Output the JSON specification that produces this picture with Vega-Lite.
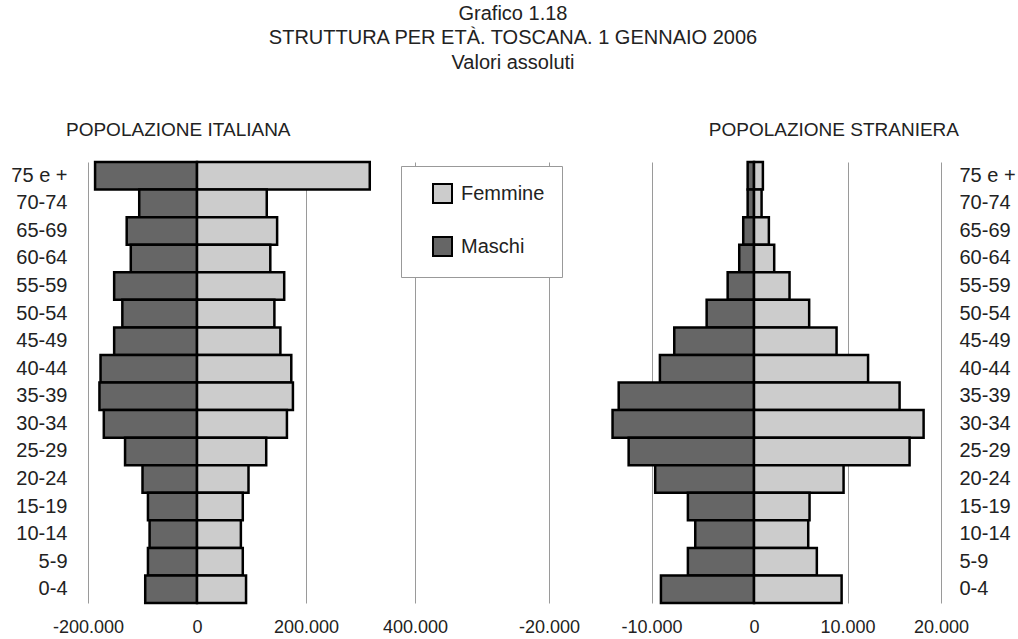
{
  "$schema": "https://vega.github.io/schema/vega-lite/v6.json",
  "padding": {"left": 10, "top": 3, "right": 0, "bottom": 0},
  "background": "white",
  "config": {
    "locale": {"number": {"decimal": ",", "thousands": ".", "grouping": [3], "currency": ["€", ""], "minus": "-"}},
    "font": "Liberation Sans",
    "view": {"stroke": null},
    "concat": {"spacing": 134},
    "axis": {"labelColor": "#222222", "labelFont": "Liberation Sans", "gridColor": "#9a9a9a", "gridWidth": 1, "gridOpacity": 1},
    "legend": {"labelFont": "Liberation Sans"},
    "title": {"font": "Liberation Sans"}
  },
  "title": {
    "text": ["Grafico 1.18", "STRUTTURA PER ETÀ. TOSCANA. 1 GENNAIO 2006", "Valori assoluti"],
    "font": "Liberation Sans",
    "fontSize": 20, "fontWeight": "normal", "lineHeight": 24.5, "anchor": "middle", "color": "#222222", "offset": 48
  },
  "datasets": {
    "ita": [
      {"eta": "75 e +", "sesso": "Maschi", "valore": -187000}, {"eta": "75 e +", "sesso": "Femmine", "valore": 317000},
      {"eta": "70-74", "sesso": "Maschi", "valore": -106000}, {"eta": "70-74", "sesso": "Femmine", "valore": 128000},
      {"eta": "65-69", "sesso": "Maschi", "valore": -129000}, {"eta": "65-69", "sesso": "Femmine", "valore": 147000},
      {"eta": "60-64", "sesso": "Maschi", "valore": -121500}, {"eta": "60-64", "sesso": "Femmine", "valore": 134500},
      {"eta": "55-59", "sesso": "Maschi", "valore": -152000}, {"eta": "55-59", "sesso": "Femmine", "valore": 160000},
      {"eta": "50-54", "sesso": "Maschi", "valore": -137000}, {"eta": "50-54", "sesso": "Femmine", "valore": 142000},
      {"eta": "45-49", "sesso": "Maschi", "valore": -152000}, {"eta": "45-49", "sesso": "Femmine", "valore": 153000},
      {"eta": "40-44", "sesso": "Maschi", "valore": -177000}, {"eta": "40-44", "sesso": "Femmine", "valore": 173000},
      {"eta": "35-39", "sesso": "Maschi", "valore": -179000}, {"eta": "35-39", "sesso": "Femmine", "valore": 176000},
      {"eta": "30-34", "sesso": "Maschi", "valore": -171000}, {"eta": "30-34", "sesso": "Femmine", "valore": 165000},
      {"eta": "25-29", "sesso": "Maschi", "valore": -132000}, {"eta": "25-29", "sesso": "Femmine", "valore": 127000},
      {"eta": "20-24", "sesso": "Maschi", "valore": -100000}, {"eta": "20-24", "sesso": "Femmine", "valore": 94500},
      {"eta": "15-19", "sesso": "Maschi", "valore": -90000}, {"eta": "15-19", "sesso": "Femmine", "valore": 84000},
      {"eta": "10-14", "sesso": "Maschi", "valore": -87000}, {"eta": "10-14", "sesso": "Femmine", "valore": 80500},
      {"eta": "5-9", "sesso": "Maschi", "valore": -90000}, {"eta": "5-9", "sesso": "Femmine", "valore": 84000},
      {"eta": "0-4", "sesso": "Maschi", "valore": -95000}, {"eta": "0-4", "sesso": "Femmine", "valore": 90000}
    ],
    "str": [
      {"eta": "75 e +", "sesso": "Maschi", "valore": -620}, {"eta": "75 e +", "sesso": "Femmine", "valore": 950},
      {"eta": "70-74", "sesso": "Maschi", "valore": -620}, {"eta": "70-74", "sesso": "Femmine", "valore": 810},
      {"eta": "65-69", "sesso": "Maschi", "valore": -1050}, {"eta": "65-69", "sesso": "Femmine", "valore": 1590},
      {"eta": "60-64", "sesso": "Maschi", "valore": -1440}, {"eta": "60-64", "sesso": "Femmine", "valore": 2160},
      {"eta": "55-59", "sesso": "Maschi", "valore": -2570}, {"eta": "55-59", "sesso": "Femmine", "valore": 3800},
      {"eta": "50-54", "sesso": "Maschi", "valore": -4620}, {"eta": "50-54", "sesso": "Femmine", "valore": 5900},
      {"eta": "45-49", "sesso": "Maschi", "valore": -7780}, {"eta": "45-49", "sesso": "Femmine", "valore": 8830},
      {"eta": "40-44", "sesso": "Maschi", "valore": -9180}, {"eta": "40-44", "sesso": "Femmine", "valore": 12200},
      {"eta": "35-39", "sesso": "Maschi", "valore": -13200}, {"eta": "35-39", "sesso": "Femmine", "valore": 15570},
      {"eta": "30-34", "sesso": "Maschi", "valore": -13800}, {"eta": "30-34", "sesso": "Femmine", "valore": 18140},
      {"eta": "25-29", "sesso": "Maschi", "valore": -12230}, {"eta": "25-29", "sesso": "Femmine", "valore": 16640},
      {"eta": "20-24", "sesso": "Maschi", "valore": -9640}, {"eta": "20-24", "sesso": "Femmine", "valore": 9580},
      {"eta": "15-19", "sesso": "Maschi", "valore": -6450}, {"eta": "15-19", "sesso": "Femmine", "valore": 5940},
      {"eta": "10-14", "sesso": "Maschi", "valore": -5730}, {"eta": "10-14", "sesso": "Femmine", "valore": 5800},
      {"eta": "5-9", "sesso": "Maschi", "valore": -6450}, {"eta": "5-9", "sesso": "Femmine", "valore": 6720},
      {"eta": "0-4", "sesso": "Maschi", "valore": -9080}, {"eta": "0-4", "sesso": "Femmine", "valore": 9370}
    ]
  },
  "bounds": "flush",
  "hconcat": [
    {
      "width": 327, "height": 441,
      "title": {"text": "POPOLAZIONE ITALIANA", "anchor": "start", "frame": "group", "dx": -22, "fontSize": 19, "fontWeight": "normal", "color": "#222222", "offset": 21},
      "data": {"name": "ita"},
      "mark": {"type": "bar", "stroke": "black", "strokeWidth": 2.5},
      "encoding": {
        "y": {"field": "eta", "type": "nominal",
          "sort": ["75 e +", "70-74", "65-69", "60-64", "55-59", "50-54", "45-49", "40-44", "35-39", "30-34", "25-29", "20-24", "15-19", "10-14", "5-9", "0-4"],
          "scale": {"paddingInner": 0, "paddingOuter": 0},
          "axis": {"orient": "left", "title": null, "ticks": false, "domain": false, "labelPadding": 21, "labelFontSize": 20, "labelAlign": "right"}},
        "x": {"field": "valore", "type": "quantitative", "stack": null,
          "scale": {"domain": [-200000, 400000], "nice": false, "zero": false},
          "axis": {"values": [-200000, 0, 200000, 400000], "format": ",d", "title": null, "ticks": false, "domain": false, "grid": true, "labelFlush": false, "labelPadding": 15, "labelFontSize": 18}},
        "color": {"field": "sesso", "type": "nominal",
          "scale": {"domain": ["Femmine", "Maschi"], "range": ["#cccccc", "#666666"]},
          "legend": {"orient": "none", "legendX": 313, "legendY": 4, "title": null, "fillColor": "white", "strokeColor": "#999999", "padding": 17, "symbolOffset": 14, "symbolType": "square", "symbolSize": 361, "symbolStrokeColor": "black", "symbolStrokeWidth": 2, "labelFontSize": 20, "labelColor": "#222222", "labelOffset": 8, "rowPadding": 26}}
      }
    },
    {
      "width": 392, "height": 441,
      "title": {"text": "POPOLAZIONE STRANIERA", "anchor": "end", "frame": "group", "dx": 18, "fontSize": 19, "fontWeight": "normal", "color": "#222222", "offset": 21},
      "data": {"name": "str"},
      "mark": {"type": "bar", "stroke": "black", "strokeWidth": 2.5},
      "encoding": {
        "y": {"field": "eta", "type": "nominal",
          "sort": ["75 e +", "70-74", "65-69", "60-64", "55-59", "50-54", "45-49", "40-44", "35-39", "30-34", "25-29", "20-24", "15-19", "10-14", "5-9", "0-4"],
          "scale": {"paddingInner": 0, "paddingOuter": 0},
          "axis": {"orient": "right", "title": null, "ticks": false, "domain": false, "labelPadding": 18, "labelFontSize": 20, "labelAlign": "left"}},
        "x": {"field": "valore", "type": "quantitative", "stack": null,
          "scale": {"domain": [-20000, 0, 20000], "range": [0, 205, 392], "nice": false, "zero": false},
          "axis": {"values": [-20000, -10000, 0, 10000, 20000], "format": ",d", "title": null, "ticks": false, "domain": false, "grid": true, "labelFlush": false, "labelPadding": 15, "labelFontSize": 18}},
        "color": {"field": "sesso", "type": "nominal",
          "scale": {"domain": ["Femmine", "Maschi"], "range": ["#cccccc", "#666666"]}}
      }
    }
  ],
  "resolve": {"scale": {"color": "shared"}}
}
